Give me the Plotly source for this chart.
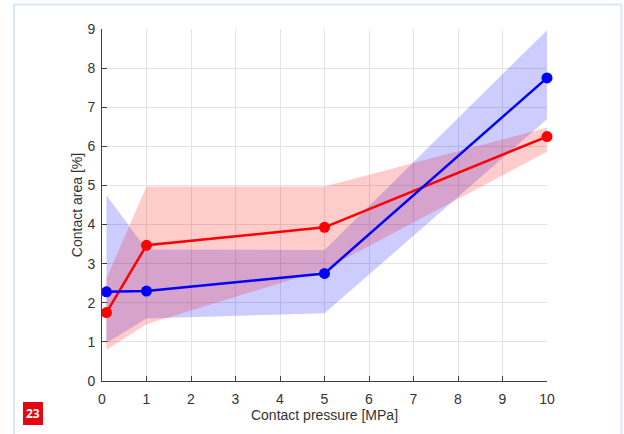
import plotly.graph_objects as go

pressure = [0.1, 1, 5, 10]
blue_mean = [2.28, 2.30, 2.75, 7.75]
blue_upper = [4.75, 3.36, 3.35, 8.97]
blue_lower = [0.97, 1.60, 1.73, 6.69]
red_mean = [1.75, 3.47, 3.93, 6.25]
red_upper = [2.62, 4.97, 4.97, 6.48]
red_lower = [0.80, 1.45, 2.85, 5.86]
x_ticks = list(range(0, 11))
y_ticks = list(range(0, 10))

BLUE = "#0000ff"
RED = "#ff0000"
FONT = "Liberation Sans, Arial"
TXT = "#333333"

fig = go.Figure()

def band(lower, upper, color):
    fig.add_trace(go.Scatter(
        x=pressure + pressure[::-1],
        y=upper + lower[::-1],
        fill="toself", fillcolor=color, line=dict(width=0),
        mode="lines", hoverinfo="skip", showlegend=False))

band(blue_lower, blue_upper, "rgba(0,0,255,0.2)")
band(red_lower, red_upper, "rgba(255,0,0,0.2)")

fig.add_trace(go.Scatter(x=pressure, y=red_mean, mode="lines+markers",
                         line=dict(color=RED, width=2.5),
                         marker=dict(color=RED, size=11),
                         cliponaxis=False, showlegend=False))
fig.add_trace(go.Scatter(x=pressure, y=blue_mean, mode="lines+markers",
                         line=dict(color=BLUE, width=2.5),
                         marker=dict(color=BLUE, size=11),
                         cliponaxis=False, showlegend=False))

axis_common = dict(
    showgrid=True, gridcolor="#e3e3e3", gridwidth=1,
    showline=True, linecolor="#404040", linewidth=1,
    ticks="inside", ticklen=5, tickcolor="#404040",
    zeroline=False, mirror=False, automargin=False,
    tickfont=dict(family=FONT, size=14, color=TXT),
)

fig.update_xaxes(range=[0, 10], tickvals=x_ticks, ticklabelstandoff=5,
                 title=dict(text="Contact pressure [MPa]", standoff=0,
                            font=dict(family=FONT, size=14, color=TXT)),
                 **axis_common)
fig.update_yaxes(range=[0, 9], tickvals=y_ticks, ticklabelstandoff=3,
                 title=dict(text="Contact area [%]", standoff=1,
                            font=dict(family=FONT, size=14, color=TXT)),
                 **axis_common)

# plot area on screen spans x 102..547, y 29..381 (page margin removed below)
L, T = 102, 29
PW, PH = 445, 352
R, B = 624 - L - PW, 434 - T - PH

def px(xs):
    return (xs - L) / PW

def py(ys):
    return (T + PH - ys) / PH

shapes = [
    # page frame
    dict(type="rect", xref="paper", yref="paper",
         x0=px(14), x1=px(621.5), y0=py(450), y1=py(4.5),
         line=dict(color="#dbe6f6", width=2), fillcolor="rgba(0,0,0,0)", layer="below"),
    # figure number box
    dict(type="rect", xref="paper", yref="paper",
         x0=px(23), x1=px(43), y0=py(425), y1=py(402),
         line=dict(width=0), fillcolor="#e30613"),
]

fig.update_layout(
    width=624, height=434,
    margin=dict(l=L, r=R, t=T, b=B),
    paper_bgcolor="white", plot_bgcolor="white",
    shapes=shapes,
    annotations=[dict(text="<b>23</b>", xref="paper", yref="paper",
                      x=px(33), y=py(413.5), showarrow=False,
                      xanchor="center", yanchor="middle",
                      font=dict(family="Noto Sans, Arial", size=12, color="white"))],
)

fig.write_html("out.html",
               config={"displayModeBar": False},
               post_script="document.body.style.margin='0';document.body.style.overflow='hidden';")
